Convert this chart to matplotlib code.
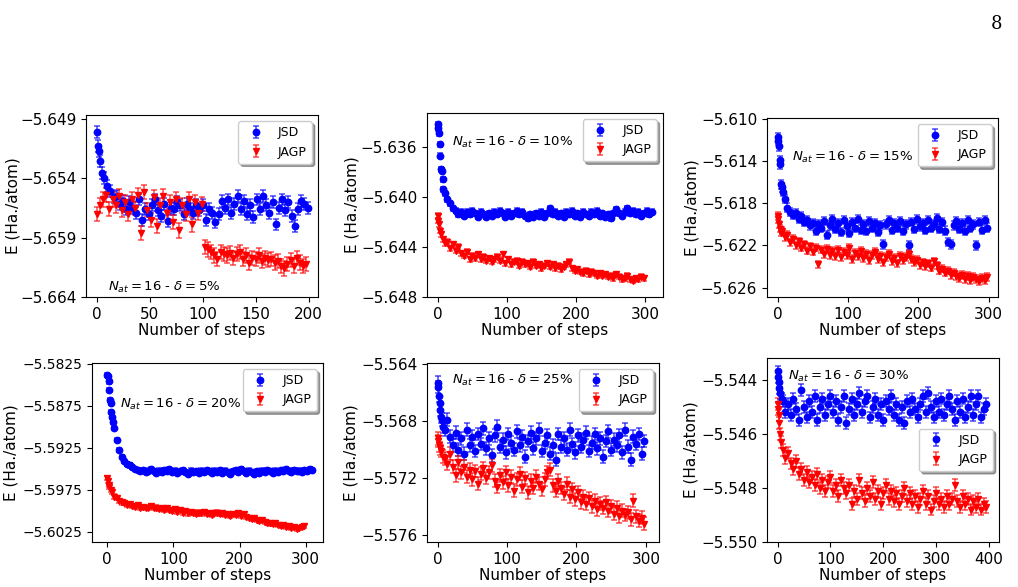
import numpy as np
import matplotlib
matplotlib.use('Agg')
import matplotlib.pyplot as plt

# ---- delta = 5% ----
steps_jsd_5 = [0, 1, 2, 3, 5, 7] + list(range(10, 200, 3))
e_jsd_5 = [-5.6501, -5.6513, -5.6517, -5.6526, -5.6536, -5.6540,
           -5.6547, -5.6551, -5.6556, -5.6555, -5.6562, -5.6559, -5.6566, -5.6560, -5.6565, -5.6569,
           -5.6558, -5.6575, -5.6566, -5.6570, -5.6563, -5.6558, -5.6567, -5.6572, -5.6562, -5.6576,
           -5.6565, -5.6566, -5.6560, -5.6563, -5.6570, -5.6562, -5.6566, -5.6569, -5.6563, -5.6567,
           -5.6563, -5.6575, -5.6566, -5.6569, -5.6577, -5.6570, -5.6559, -5.6565, -5.6558, -5.6569,
           -5.6562, -5.6555, -5.6566, -5.6559, -5.6570, -5.6563, -5.6573, -5.6558, -5.6566, -5.6555,
           -5.6563, -5.6569, -5.6560, -5.6579, -5.6565, -5.6558, -5.6567, -5.6560, -5.6572, -5.6580,
           -5.6566, -5.6559, -5.6562, -5.6565]
steps_jagp_5 = list(range(0, 200, 3))
e_jagp_5 = [-5.6570, -5.6563, -5.6558, -5.6554, -5.6566, -5.6558, -5.6563, -5.6555, -5.6567, -5.6560,
            -5.6570, -5.6558, -5.6565, -5.6554, -5.6586, -5.6552, -5.6567, -5.6575, -5.6556, -5.6580,
            -5.6563, -5.6555, -5.6569, -5.6560, -5.6577, -5.6558, -5.6584, -5.6563, -5.6570, -5.6558,
            -5.6579, -5.6560, -5.6569, -5.6562, -5.6598, -5.6600, -5.6602, -5.6605, -5.6608, -5.6602,
            -5.6604, -5.6605, -5.6603, -5.6607, -5.6604, -5.6602, -5.6608, -5.6605, -5.6611, -5.6607,
            -5.6608, -5.6605, -5.6610, -5.6607, -5.6609, -5.6608, -5.6611, -5.6610, -5.6614, -5.6616,
            -5.6612, -5.6609, -5.6614, -5.6607, -5.6611, -5.6614, -5.6612]

# ---- delta = 10% ----
steps_jsd_10 = [0, 1, 2, 3, 4, 5, 6, 7, 8] + list(range(10, 311, 4))
e_jsd_10 = [-5.6342, -5.6345, -5.6349, -5.6358, -5.6367, -5.6378, -5.6379, -5.6386, -5.6394,
            -5.6397, -5.6402, -5.6405, -5.6409, -5.6411, -5.6414, -5.6412, -5.6415, -5.6412, -5.6414,
            -5.6411, -5.6413, -5.6416, -5.6412, -5.6414, -5.6416, -5.6413, -5.6415, -5.6412, -5.6414,
            -5.6411, -5.6413, -5.6416, -5.6412, -5.6415, -5.6413, -5.6411, -5.6414, -5.6412, -5.6415,
            -5.6417, -5.6414, -5.6416, -5.6413, -5.6415, -5.6412, -5.6416, -5.6413, -5.6409, -5.6414,
            -5.6412, -5.6415, -5.6413, -5.6416, -5.6412, -5.6414, -5.6411, -5.6415, -5.6413, -5.6416,
            -5.6412, -5.6414, -5.6415, -5.6412, -5.6414, -5.6411, -5.6415, -5.6413, -5.6416, -5.6414,
            -5.6417, -5.6413, -5.6410, -5.6413, -5.6415, -5.6412, -5.6409, -5.6413, -5.6411, -5.6414,
            -5.6412, -5.6415, -5.6413, -5.6411, -5.6414, -5.6412]
steps_jagp_10 = [0, 1, 2, 3, 5, 7] + list(range(10, 301, 4))
e_jagp_10 = [-5.6415, -5.6419, -5.6422, -5.6427, -5.6430, -5.6434,
             -5.6437, -5.6436, -5.6441, -5.6438, -5.6443, -5.6440, -5.6445, -5.6447, -5.6444, -5.6450,
             -5.6447, -5.6449, -5.6446, -5.6450, -5.6448, -5.6451, -5.6449, -5.6452, -5.6450, -5.6448,
             -5.6451, -5.6446, -5.6453, -5.6450, -5.6454, -5.6452, -5.6451, -5.6455, -5.6452, -5.6454,
             -5.6453, -5.6456, -5.6452, -5.6455, -5.6454, -5.6457, -5.6455, -5.6453, -5.6456, -5.6454,
             -5.6457, -5.6455, -5.6458, -5.6456, -5.6454, -5.6452, -5.6457, -5.6459, -5.6458, -5.6460,
             -5.6461, -5.6459, -5.6462, -5.6460, -5.6461, -5.6463, -5.6461, -5.6463, -5.6462, -5.6464,
             -5.6463, -5.6465, -5.6462, -5.6464, -5.6466, -5.6465, -5.6463, -5.6466, -5.6467, -5.6465,
             -5.6466, -5.6464, -5.6465]

# ---- delta = 15% ----
steps_jsd_15 = [0, 1, 2, 3, 4, 5, 7, 8] + list(range(10, 299, 4))
e_jsd_15 = [-5.6117, -5.6121, -5.6126, -5.6139, -5.6143, -5.6162, -5.6165, -5.6169,
            -5.6176, -5.6184, -5.6188, -5.6191, -5.6189, -5.6195, -5.6192, -5.6198, -5.6196, -5.6201,
            -5.6199, -5.6206, -5.6200, -5.6203, -5.6197, -5.6210, -5.6201, -5.6195, -5.6204, -5.6199,
            -5.6207, -5.6196, -5.6202, -5.6208, -5.6198, -5.6203, -5.6195, -5.6205, -5.6200, -5.6206,
            -5.6197, -5.6203, -5.6199, -5.6207, -5.6201, -5.6219, -5.6200, -5.6196, -5.6205, -5.6199,
            -5.6203, -5.6197, -5.6206, -5.6200, -5.6220, -5.6198, -5.6204, -5.6195, -5.6202, -5.6199,
            -5.6205, -5.6196, -5.6203, -5.6200, -5.6194, -5.6204, -5.6198, -5.6206, -5.6217, -5.6219,
            -5.6201, -5.6197, -5.6204, -5.6199, -5.6206, -5.6196, -5.6203, -5.6200, -5.6220, -5.6198,
            -5.6205, -5.6196, -5.6203]
steps_jagp_15 = [0, 1, 2, 3, 5, 7] + list(range(10, 299, 4))
e_jagp_15 = [-5.6192, -5.6195, -5.6200, -5.6204, -5.6208, -5.6206,
             -5.6212, -5.6210, -5.6217, -5.6214, -5.6220, -5.6216, -5.6222, -5.6219, -5.6225, -5.6221,
             -5.6226, -5.6222, -5.6238, -5.6224, -5.6228, -5.6223, -5.6229, -5.6225, -5.6230, -5.6224,
             -5.6231, -5.6226, -5.6229, -5.6222, -5.6233, -5.6227, -5.6230, -5.6225, -5.6232, -5.6228,
             -5.6234, -5.6229, -5.6226, -5.6233, -5.6230, -5.6236, -5.6231, -5.6228, -5.6235, -5.6232,
             -5.6237, -5.6230, -5.6234, -5.6231, -5.6228, -5.6233, -5.6236, -5.6234, -5.6239, -5.6236,
             -5.6240, -5.6237, -5.6241, -5.6235, -5.6239, -5.6244, -5.6242, -5.6246, -5.6244, -5.6248,
             -5.6246, -5.6249, -5.6251, -5.6248, -5.6252, -5.6249, -5.6253, -5.6250, -5.6252, -5.6254,
             -5.6251, -5.6253, -5.6250]

# ---- delta = 20% ----
steps_jsd_20 = [0, 1, 2, 3, 4, 5, 6, 7, 8] + list(range(10, 311, 4))
e_jsd_20 = [-5.5838, -5.5840, -5.5846, -5.5856, -5.5868, -5.5872, -5.5882, -5.5888, -5.5894,
            -5.5901, -5.5916, -5.5928, -5.5936, -5.5941, -5.5944, -5.5946, -5.5948, -5.5950, -5.5951,
            -5.5953, -5.5951, -5.5954, -5.5952, -5.5950, -5.5953, -5.5955, -5.5952, -5.5954, -5.5951,
            -5.5953, -5.5950, -5.5954, -5.5952, -5.5955, -5.5953, -5.5951, -5.5954, -5.5956, -5.5952,
            -5.5954, -5.5953, -5.5955, -5.5952, -5.5954, -5.5951, -5.5953, -5.5955, -5.5952, -5.5954,
            -5.5951, -5.5955, -5.5952, -5.5954, -5.5956, -5.5953, -5.5951, -5.5954, -5.5950, -5.5953,
            -5.5955, -5.5952, -5.5954, -5.5956, -5.5953, -5.5955, -5.5952, -5.5954, -5.5951, -5.5953,
            -5.5955, -5.5952, -5.5954, -5.5951, -5.5953, -5.5950, -5.5952, -5.5954, -5.5951, -5.5953,
            -5.5952, -5.5954, -5.5951, -5.5953, -5.5950, -5.5951]
steps_jagp_20 = [0, 1, 2, 3, 5, 7] + list(range(10, 299, 4))
e_jagp_20 = [-5.5961, -5.5964, -5.5969, -5.5971, -5.5975, -5.5978,
             -5.5983, -5.5985, -5.5988, -5.5990, -5.5991, -5.5993, -5.5992, -5.5994, -5.5995, -5.5993,
             -5.5996, -5.5995, -5.5997, -5.5996, -5.5994, -5.5997, -5.5996, -5.5998, -5.5997, -5.5999,
             -5.5997, -5.5999, -5.6000, -5.5998, -5.6001, -5.5999, -5.6002, -5.6000, -5.6003, -5.6001,
             -5.6002, -5.6004, -5.6002, -5.6003, -5.6001, -5.6004, -5.6003, -5.6005, -5.6003, -5.6002,
             -5.6004, -5.6003, -5.6005, -5.6004, -5.6006, -5.6004, -5.6005, -5.6003, -5.6006, -5.6004,
             -5.6007, -5.6008, -5.6010, -5.6009, -5.6011, -5.6012, -5.6011, -5.6013, -5.6014, -5.6015,
             -5.6016, -5.6015, -5.6017, -5.6018, -5.6017, -5.6019, -5.6018, -5.6020, -5.6019, -5.6021,
             -5.6020, -5.6019, -5.6018]

# ---- delta = 25% ----
steps_jsd_25 = [0, 1, 2, 3, 4, 5, 6, 8] + list(range(10, 299, 4))
e_jsd_25 = [-5.5653, -5.5656, -5.5662, -5.5667, -5.5672, -5.5677, -5.5679, -5.5684,
            -5.5686, -5.5679, -5.5691, -5.5697, -5.5688, -5.5700, -5.5692, -5.5703, -5.5686, -5.5697,
            -5.5691, -5.5701, -5.5689, -5.5696, -5.5685, -5.5699, -5.5692, -5.5704, -5.5690, -5.5684,
            -5.5698, -5.5693, -5.5702, -5.5689, -5.5695, -5.5700, -5.5687, -5.5697, -5.5691, -5.5705,
            -5.5694, -5.5688, -5.5699, -5.5692, -5.5686, -5.5701, -5.5695, -5.5690, -5.5703, -5.5697,
            -5.5707, -5.5689, -5.5698, -5.5692, -5.5700, -5.5686, -5.5696, -5.5702, -5.5690, -5.5698,
            -5.5693, -5.5688, -5.5701, -5.5695, -5.5689, -5.5699, -5.5692, -5.5705, -5.5694, -5.5687,
            -5.5700, -5.5693, -5.5697, -5.5690, -5.5702, -5.5686, -5.5698, -5.5707, -5.5691, -5.5696,
            -5.5689, -5.5703, -5.5694]
steps_jagp_25 = [0, 1, 2, 3, 5, 8] + list(range(10, 299, 4))
e_jagp_25 = [-5.5694, -5.5692, -5.5697, -5.5699, -5.5701, -5.5705,
             -5.5706, -5.5710, -5.5703, -5.5712, -5.5718, -5.5709, -5.5716, -5.5712, -5.5719, -5.5714,
             -5.5721, -5.5715, -5.5724, -5.5717, -5.5713, -5.5720, -5.5716, -5.5711, -5.5722, -5.5726,
             -5.5718, -5.5723, -5.5716, -5.5725, -5.5719, -5.5729, -5.5721, -5.5717, -5.5726, -5.5720,
             -5.5730, -5.5722, -5.5727, -5.5719, -5.5724, -5.5728, -5.5721, -5.5716, -5.5714, -5.5725,
             -5.5729, -5.5722, -5.5727, -5.5731, -5.5724, -5.5733, -5.5728, -5.5735, -5.5730, -5.5737,
             -5.5733, -5.5738, -5.5734, -5.5740, -5.5736, -5.5742, -5.5738, -5.5741, -5.5737, -5.5743,
             -5.5740, -5.5745, -5.5741, -5.5747, -5.5743, -5.5746, -5.5744, -5.5749, -5.5736, -5.5747,
             -5.5750, -5.5748, -5.5752]

# ---- delta = 30% ----
steps_jsd_30 = [0, 1, 2, 3, 5, 8] + list(range(10, 400, 5))
e_jsd_30 = [-5.5437, -5.5439, -5.5441, -5.5443, -5.5445, -5.5447,
            -5.5448, -5.5452, -5.5449, -5.5453, -5.5447, -5.5451, -5.5455, -5.5444, -5.5450, -5.5454,
            -5.5448, -5.5452, -5.5446, -5.5455, -5.5450, -5.5447, -5.5453, -5.5449, -5.5446, -5.5452,
            -5.5448, -5.5455, -5.5450, -5.5446, -5.5456, -5.5451, -5.5447, -5.5453, -5.5449, -5.5445,
            -5.5452, -5.5448, -5.5446, -5.5454, -5.5450, -5.5447, -5.5453, -5.5449, -5.5455, -5.5448,
            -5.5451, -5.5446, -5.5453, -5.5449, -5.5455, -5.5450, -5.5456, -5.5448, -5.5452, -5.5447,
            -5.5451, -5.5454, -5.5449, -5.5446, -5.5452, -5.5445, -5.5450, -5.5454, -5.5448, -5.5452,
            -5.5447, -5.5453, -5.5449, -5.5446, -5.5451, -5.5455, -5.5448, -5.5452, -5.5447, -5.5454,
            -5.5450, -5.5446, -5.5453, -5.5449, -5.5446, -5.5454, -5.5451, -5.5449]
steps_jagp_30 = [0, 1, 2, 3, 5, 7] + list(range(10, 400, 5))
e_jagp_30 = [-5.5451, -5.5449, -5.5453, -5.5456, -5.5460, -5.5463,
             -5.5466, -5.5469, -5.5467, -5.5471, -5.5473, -5.5470, -5.5475, -5.5473, -5.5477, -5.5474,
             -5.5478, -5.5476, -5.5479, -5.5475, -5.5480, -5.5477, -5.5481, -5.5478, -5.5476, -5.5481,
             -5.5479, -5.5483, -5.5477, -5.5480, -5.5482, -5.5479, -5.5486, -5.5481, -5.5484, -5.5477,
             -5.5482, -5.5485, -5.5480, -5.5483, -5.5478, -5.5484, -5.5481, -5.5486, -5.5482, -5.5479,
             -5.5484, -5.5481, -5.5485, -5.5482, -5.5486, -5.5483, -5.5480, -5.5485, -5.5482, -5.5486,
             -5.5483, -5.5487, -5.5484, -5.5481, -5.5486, -5.5483, -5.5488, -5.5485, -5.5482, -5.5486,
             -5.5484, -5.5487, -5.5483, -5.5486, -5.5484, -5.5479, -5.5485, -5.5487, -5.5483, -5.5486,
             -5.5484, -5.5488, -5.5485, -5.5487, -5.5484, -5.5488, -5.5486, -5.5487]

# error bar half widths (Ha), one per series
err_jsd = [0.0005, 0.0002, 0.0004, 0.00025, 0.00045, 0.00022]
err_jagp = [0.0006, 0.0002, 0.00035, 0.00025, 0.00045, 0.00022]

deltas = [5, 10, 15, 20, 25, 30]

panels = [
    dict(jsd=(steps_jsd_5, e_jsd_5), jagp=(steps_jagp_5, e_jagp_5),
         pos=[0.0845, 0.494, 0.228, 0.310], ylim=(-5.664, -5.6487),
         yticks=[-5.664, -5.659, -5.654, -5.649], ytfmt='%.3f',
         xlim=(-10, 209), xticks=[0, 50, 100, 150, 200],
         txt=(0.095, 0.055), leg='upper right', ylx=-0.284, tls=11),
    dict(jsd=(steps_jsd_10, e_jsd_10), jagp=(steps_jagp_10, e_jagp_10),
         pos=[0.4194, 0.494, 0.2318, 0.3135], ylim=(-5.648, -5.6333),
         yticks=[-5.648, -5.644, -5.640, -5.636], ytfmt='%.3f',
         xlim=(-15.5, 325.5), xticks=[0, 100, 200, 300],
         txt=(0.105, 0.84), leg='upper right', ylx=-0.284, tls=11),
    dict(jsd=(steps_jsd_15, e_jsd_15), jagp=(steps_jagp_15, e_jagp_15),
         pos=[0.7534, 0.494, 0.2269, 0.305], ylim=(-5.6269, -5.6099),
         yticks=[-5.626, -5.622, -5.618, -5.614, -5.610], ytfmt='%.3f',
         xlim=(-15, 313), xticks=[0, 100, 200, 300],
         txt=(0.107, 0.78), leg='upper right', ylx=-0.29, tls=11),
    dict(jsd=(steps_jsd_20, e_jsd_20), jagp=(steps_jagp_20, e_jagp_20),
         pos=[0.0904, 0.0767, 0.2269, 0.305], ylim=(-5.6037, -5.5824),
         yticks=[-5.6025, -5.5975, -5.5925, -5.5875, -5.5825], ytfmt='%.4f',
         xlim=(-23, 326), xticks=[0, 100, 200, 300],
         txt=(0.121, 0.77), leg='upper right', ylx=-0.319, tls=10),
    dict(jsd=(steps_jsd_25, e_jsd_25), jagp=(steps_jagp_25, e_jagp_25),
         pos=[0.4194, 0.0767, 0.228, 0.305], ylim=(-5.5765, -5.5639),
         yticks=[-5.576, -5.572, -5.568, -5.564], ytfmt='%.3f',
         xlim=(-15.4, 319), xticks=[0, 100, 200, 300],
         txt=(0.106, 0.90), leg='upper right', ylx=-0.296, tls=11),
    dict(jsd=(steps_jsd_30, e_jsd_30), jagp=(steps_jagp_30, e_jagp_30),
         pos=[0.7534, 0.0767, 0.228, 0.3135], ylim=(-5.550, -5.5432),
         yticks=[-5.550, -5.548, -5.546, -5.544], ytfmt='%.3f',
         xlim=(-20, 419), xticks=[0, 100, 200, 300, 400],
         txt=(0.09, 0.897), leg='center right', ylx=-0.296, tls=11),
]

fig = plt.figure(figsize=(10.18, 5.87), dpi=100)

for i, p in enumerate(panels):
    ax = fig.add_axes(p['pos'])
    xs, ys = p['jsd']
    ax.errorbar(xs, ys, yerr=err_jsd[i], fmt='o', color='b', ms=4.6,
                ecolor=(0.0, 0.0, 1.0, 0.6), elinewidth=1.3, capsize=2.2,
                capthick=1.3, label='JSD')
    xs, ys = p['jagp']
    ax.errorbar(xs, ys, yerr=err_jagp[i], fmt='v', color='r', ms=4.6,
                ecolor=(1.0, 0.0, 0.0, 0.6), elinewidth=1.3, capsize=2.2,
                capthick=1.3, label='JAGP')
    ax.set_xlim(*p['xlim'])
    ax.set_ylim(*p['ylim'])
    ax.set_xticks(p['xticks'])
    ax.set_yticks(p['yticks'])
    ax.set_yticklabels([(p['ytfmt'] % v).replace('-', '\u2212') for v in p['yticks']])
    ax.tick_params(axis='y', labelsize=p['tls'])
    ax.tick_params(axis='x', labelsize=11)
    ax.set_ylabel('E (Ha./atom)', fontsize=11)
    ax.yaxis.set_label_coords(p['ylx'], 0.5)
    ax.set_xlabel('Number of steps', fontsize=11, labelpad=1)
    ax.text(p['txt'][0], p['txt'][1],
            r'$N_{at} = 16$ - $\delta = %d\%%$' % deltas[i],
            transform=ax.transAxes, fontsize=9.5, ha='left', va='center')
    ax.legend(loc=p['leg'], fontsize=9, shadow=True, framealpha=1)

fig.text(0.985, 0.975, '8', fontsize=13, family='DejaVu Serif', ha='right', va='top')

plt.savefig('out.png', dpi=100)
